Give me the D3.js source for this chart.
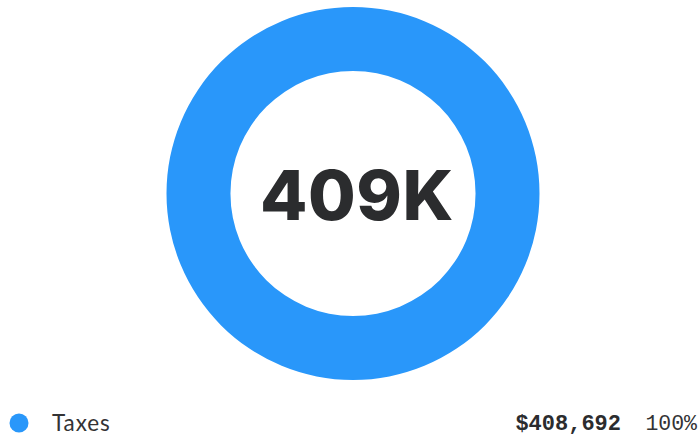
<!DOCTYPE html>
<html>
<head>
<meta charset="utf-8">
<script src="https://cdn.jsdelivr.net/npm/d3@7"></script>
<style>
  body { margin: 0; background: #fff; }
</style>
</head>
<body>
<div id="chart"></div>
<script>
var w = 699,
    h = 439;

var categories = ["Taxes"];
var values = [408692];
var colors = ["#2997fa"];

var total = d3.sum(values);

var svg = d3.select('#chart')
    .append('svg')
    .attr('width', w)
    .attr('height', h);

var cx = 353, cy = 193.5,
    outerR = 186.5, innerR = 122.5;

var pie = d3.pie().sort(null);
var arc = d3.arc().innerRadius(innerR).outerRadius(outerR);

var g = svg.append('g')
    .attr('transform', 'translate(' + cx + ',' + cy + ')');

g.selectAll('path')
    .data(pie(values))
    .enter().append('path')
    .attr('d', arc)
    .attr('fill', function(d, i) { return colors[i]; });

// center label
g.append('text')
    .text(d3.format('.3~s')(total).replace('k', 'K'))
    .attr('text-anchor', 'middle')
    .attr('x', 4)
    .attr('y', 26)
    .attr('font-family', 'Inter, "DejaVu Sans", sans-serif')
    .attr('font-weight', 800)
    .attr('font-size', '69px')
    .attr('letter-spacing', '0.5px')
    .attr('fill', '#2b2c2e');

// legend rows
var row = svg.selectAll('g.legend')
    .data(categories)
    .enter().append('g')
    .attr('class', 'legend')
    .attr('transform', function(d, i) { return 'translate(0,' + (423 + i * 30) + ')'; });

row.append('circle')
    .attr('cx', 19)
    .attr('r', 9.5)
    .attr('fill', function(d, i) { return colors[i]; });

row.append('text')
    .text(function(d) { return d; })
    .attr('x', 52)
    .attr('y', 8)
    .attr('font-family', 'Lato, sans-serif')
    .attr('font-size', '22.5px')
    .attr('letter-spacing', '0.9px')
    .attr('fill', '#333335');

row.append('text')
    .text(function(d, i) { return '$' + d3.format(',')(values[i]); })
    .attr('x', 621)
    .attr('y', 7)
    .attr('text-anchor', 'end')
    .attr('font-family', '"Liberation Mono", monospace')
    .attr('font-weight', 'bold')
    .attr('font-size', '22px')
    .attr('fill', '#2b2c2e');

row.append('text')
    .text(function(d, i) { return d3.format('.0%')(values[i] / total); })
    .attr('x', 697)
    .attr('y', 7)
    .attr('text-anchor', 'end')
    .attr('font-family', '"Liberation Mono", monospace')
    .attr('font-size', '21.5px')
    .attr('fill', '#333335');
</script>
</body>
</html>
